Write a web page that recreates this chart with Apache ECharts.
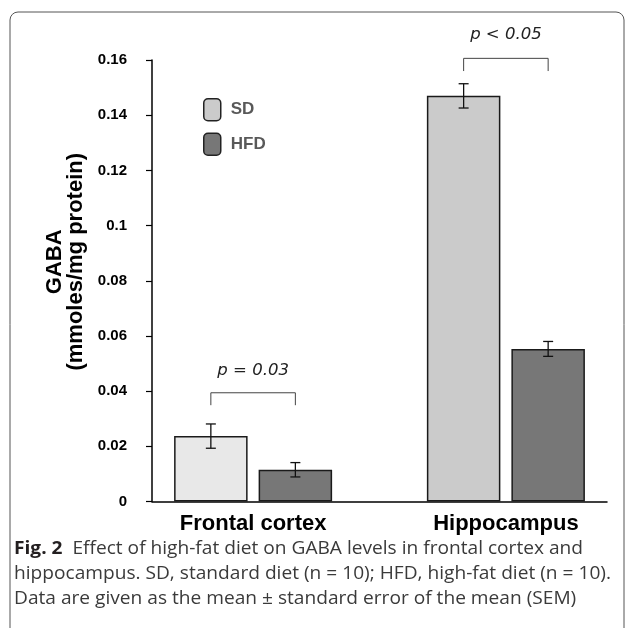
<!DOCTYPE html>
<html><head><meta charset="utf-8">
<script src="https://cdn.jsdelivr.net/npm/echarts@6/dist/echarts.min.js"></script>
<style>html,body{margin:0;padding:0;background:#fff}#c{width:627px;height:628px}</style>
</head><body><div id="c"></div>
<script>
// ---- data ----
const categories = ['Frontal cortex', 'Hippocampus'];
const seriesNames = ['SD', 'HFD'];
const sdValues = [0.0237, 0.1470];
const sdErrors = [0.0044, 0.0044];
const hfdValues = [0.0115, 0.0553];
const hfdErrors = [0.0026, 0.0027];
const pLabels = ['p = 0.03', 'p < 0.05'];
const bracketTop = [0.0394, 0.1606];
const bracketLeg = [0.0349, 0.1560];
const pLabelY = [0.0474, 0.1690];
const yAxisName = 'GABA\n(mmoles/mg protein)';
const captionLines = [
  'Effect of high-fat diet on GABA levels in frontal cortex and',
  'hippocampus. SD, standard diet (n = 10); HFD, high-fat diet (n = 10).',
  'Data are given as the mean ± standard error of the mean (SEM)'
];
const captionLead = 'Fig. 2';

// ---- styles ----
const BAR_W = 73.5, BAR_GAP = 0.15;
const OFFSET = BAR_W * (1 + BAR_GAP) / 2;
const CAP = 5;
const sdColors = ['#e8e8e8', '#cbcbcb'];
const hfdColor = '#777777';
const AX = '"Liberation Sans", Arial, sans-serif';

const chart = echarts.init(document.getElementById('c'), null, {renderer: 'canvas'});

function errorSeries(vals, errs, sign) {
  return {
    type: 'custom', silent: true, z: 5, clip: false,
    data: vals.map((v, i) => [i + 1, v, errs[i]]),
    renderItem(params, api) {
      const x = api.value(0), v = api.value(1), e = api.value(2);
      const t = api.coord([x, v + e]), b = api.coord([x, v - e]);
      const cx = t[0] + sign * OFFSET;
      const st = {stroke: '#111', lineWidth: 1.3};
      return {type: 'group', children: [
        {type: 'line', shape: {x1: cx, y1: t[1], x2: cx, y2: b[1]}, style: st},
        {type: 'line', shape: {x1: cx - CAP, y1: t[1], x2: cx + CAP, y2: t[1]}, style: st},
        {type: 'line', shape: {x1: cx - CAP, y1: b[1], x2: cx + CAP, y2: b[1]}, style: st}
      ]};
    }
  };
}

const bracketSeries = {
  type: 'custom', silent: true, z: 5, clip: false,
  data: categories.map((c, i) => [i + 1, bracketTop[i], bracketLeg[i], pLabelY[i]]),
  renderItem(params, api) {
    const x = api.value(0);
    const top = api.coord([x, api.value(1)]);
    const leg = api.coord([x, api.value(2)]);
    const lab = api.coord([x, api.value(3)]);
    const x1 = top[0] - OFFSET, x2 = top[0] + OFFSET;
    const st = {stroke: '#444', lineWidth: 1, fill: null};
    return {type: 'group', children: [
      {type: 'polyline', shape: {points: [[x1, leg[1]], [x1, top[1]], [x2, top[1]], [x2, leg[1]]]}, style: st},
      {type: 'text', x: lab[0], y: lab[1], style: {
        text: pLabels[params.dataIndex], font: 'italic 16.5px "DejaVu Sans", sans-serif',
        fill: '#222', align: 'center', verticalAlign: 'middle'}}
    ]};
  }
};

// caption scale
const CAP_FONT = '"Open Sans", "Noto Sans", sans-serif';
const CAP_SIZE = 18.5;
const ctx = document.createElement('canvas').getContext('2d');
ctx.font = CAP_SIZE + 'px ' + CAP_FONT;
const capScale = 597 / ctx.measureText(captionLines[1]).width;

const captionGraphics = captionLines.map((line, i) => ({
  type: 'text', x: 14, y: 549 + i * 25, scaleX: capScale, z: 10,
  style: {
    text: i === 0 ? '{b|' + captionLead + '}  ' + line : line,
    font: CAP_SIZE + 'px ' + CAP_FONT, fill: '#3a3a3a',
    verticalAlign: 'middle', align: 'left',
    rich: {b: {fontWeight: 'bold', fontSize: CAP_SIZE, fontFamily: CAP_FONT, fill: '#231f20'}}
  }
}));

const option = {
  animation: false,
  backgroundColor: '#fff',
  grid: {left: 152, right: 20, top: 60, bottom: 126.5, containLabel: false, outerBoundsMode: 'none'},
  legend: {
    data: seriesNames, orient: 'vertical', left: 203, top: 98, padding: 0,
    itemWidth: 17, itemHeight: 22, itemGap: 11, icon: 'roundRect',
    itemStyle: {borderColor: '#222', borderWidth: 1.5},
    textStyle: {fontFamily: AX, fontWeight: 'bold', fontSize: 17, color: '#595959', padding: [0, 0, 0, 5]}
  },
  xAxis: {
    type: 'value', min: 0.6, max: 2.4,
    axisLine: {show: true, lineStyle: {color: '#000', width: 1.5}},
    axisTick: {show: false},
    splitLine: {show: false},
    axisLabel: {
      customValues: categories.map((c, i) => i + 1),
      formatter: v => categories[Math.round(v) - 1] || '',
      fontFamily: AX, fontWeight: 'bold', fontSize: 22, color: '#000', margin: 11
    }
  },
  yAxis: {
    type: 'value', min: 0, max: 0.16, interval: 0.02,
    name: yAxisName, nameLocation: 'middle', nameGap: 64, nameRotate: 90,
    nameTextStyle: {fontFamily: AX, fontWeight: 'bold', fontSize: 22, color: '#000', lineHeight: 21, padding: [0, 0, 0, 38]},
    axisLine: {show: true, lineStyle: {color: '#000', width: 1.5}},
    axisTick: {show: true, length: 6, lineStyle: {color: '#000', width: 1.2}},
    splitLine: {show: false},
    axisLabel: {
      formatter: v => String(parseFloat(v.toFixed(2))),
      fontFamily: AX, fontWeight: 'bold', fontSize: 15, color: '#000', margin: 25
    }
  },
  series: [
    {
      name: seriesNames[0], type: 'bar', barWidth: BAR_W, barGap: (BAR_GAP * 100) + '%',
      itemStyle: {color: sdColors[1], borderColor: '#1a1a1a', borderWidth: 1.5},
      data: sdValues.map((v, i) => ({value: [i + 1, v], itemStyle: {color: sdColors[i]}}))
    },
    {
      name: seriesNames[1], type: 'bar', barWidth: BAR_W, barGap: (BAR_GAP * 100) + '%',
      itemStyle: {color: hfdColor, borderColor: '#1a1a1a', borderWidth: 1.5},
      data: hfdValues.map((v, i) => [i + 1, v])
    },
    errorSeries(sdValues, sdErrors, -1),
    errorSeries(hfdValues, hfdErrors, 1),
    bracketSeries
  ],
  graphic: [
    {type: 'rect', shape: {x: 10, y: 12, width: 614, height: 640, r: 8},
     style: {fill: 'none', stroke: '#555', lineWidth: 1}, z: -1, silent: true}
  ].concat(captionGraphics)
};
chart.setOption(option);
</script>
</body></html>
